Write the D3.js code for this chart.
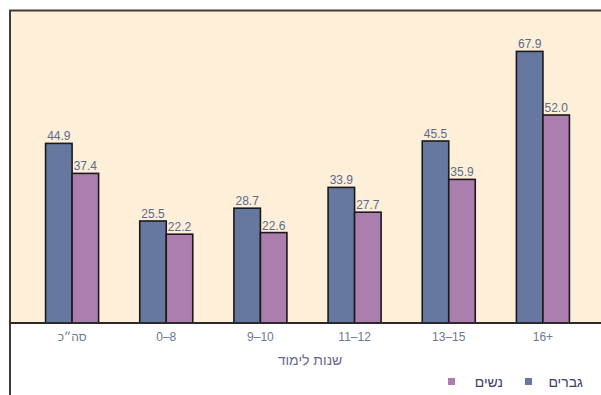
<!DOCTYPE html>
<html>
<head>
<meta charset="utf-8">
<script src="https://cdn.jsdelivr.net/npm/d3@7"></script>
<style>
  html, body { margin: 0; padding: 0; background: #ffffff; }
  svg { display: block; font-family: "Liberation Sans", "DejaVu Sans", Arial, sans-serif; }
  .num-label { direction: ltr; unicode-bidi: bidi-override; }
</style>
</head>
<body>
<svg id="chart" width="601" height="395"></svg>
<script>
// Years of schooling groups
const categories = ["סה״כ", "0–8", "9–10", "11–12", "13–15", "16+"];
// Series values per group
const men = [44.9, 25.5, 28.7, 33.9, 45.5, 67.9];
const women = [37.4, 22.2, 22.6, 27.7, 35.9, 52.0];
const seriesNames = ["גברים", "נשים"];
const seriesKeys = ["men", "women"];
const colors = { men: "#66789f", women: "#ab7eae" };
const xTitle = "שנות לימוד";

const rows = categories.map((c, i) => ({ cat: c, men: men[i], women: women[i] }));

const svg = d3.select("#chart");
const W = 601, H = 395;
const baseY = 323, topY = 11, leftX = 10;

// Panel background
svg.append("rect").attr("x", leftX).attr("y", topY).attr("width", W - leftX).attr("height", baseY - topY)
  .attr("fill", "#fdefd8");

const x0 = d3.scaleBand().domain(categories).range([25, 590]).paddingInner(0.437).paddingOuter(0.2185);
const x1 = d3.scaleBand().domain(seriesKeys).range([0, x0.bandwidth()]);
const y = d3.scaleLinear().domain([0, 78]).range([baseY, topY]);

const g = svg.append("g");
const groups = g.selectAll("g.grp").data(rows).join("g")
  .attr("class", "grp")
  .attr("transform", d => `translate(${x0(d.cat)},0)`);

groups.selectAll("rect").data(d => seriesKeys.map(k => ({ key: k, value: d[k] }))).join("rect")
  .attr("x", d => x1(d.key))
  .attr("y", d => y(d.value))
  .attr("width", x1.bandwidth())
  .attr("height", d => y(0) - y(d.value))
  .attr("fill", d => colors[d.key])
  .attr("stroke", "#1a1a1a")
  .attr("stroke-width", 1.6);

groups.selectAll("text.val").data(d => seriesKeys.map(k => ({ key: k, value: d[k] }))).join("text")
  .attr("class", "val")
  .attr("x", d => x1(d.key) + x1.bandwidth() / 2)
  .attr("y", d => y(d.value) - 3)
  .attr("text-anchor", "middle")
  .attr("font-size", 12)
  .attr("fill", "#5b6a8c")
  .text(d => d.value.toFixed(1));

// Frame lines: top and left
svg.append("line").attr("x1", leftX - 1).attr("x2", W).attr("y1", 10.5).attr("y2", 10.5)
  .attr("stroke", "#3c3c3c").attr("stroke-width", 2);
svg.append("line").attr("x1", leftX).attr("x2", leftX).attr("y1", 10).attr("y2", H)
  .attr("stroke", "#3c3c3c").attr("stroke-width", 2);

// X axis
const hebrew = /[\u0590-\u05FF]/;
const xAxis = d3.axisBottom(x0).tickSize(0).tickPadding(8);
const ax = svg.append("g").attr("transform", `translate(0,${baseY})`).call(xAxis);
ax.select(".domain").attr("d", `M${leftX},0H${W}`).attr("stroke", "#2a2a2a").attr("stroke-width", 2);
ax.selectAll("text")
  .attr("font-size", 12)
  .attr("fill", "#6d7792")
  .attr("font-family", "Liberation Sans, DejaVu Sans, Arial, sans-serif")
  .attr("dy", "0.8em")
  .attr("class", d => hebrew.test(d) ? null : "num-label");

svg.append("text")
  .attr("x", 310).attr("y", 365)
  .attr("text-anchor", "middle")
  .attr("font-size", 14)
  .attr("fill", "#6a6a8a")
  .text(xTitle);

// Legend
const legend = svg.append("g");
const legendItems = [
  { key: "men", label: seriesNames[0], box: 525, textRight: 583 },
  { key: "women", label: seriesNames[1], box: 448, textRight: 503 }
];
legendItems.forEach(it => {
  legend.append("rect").attr("x", it.box).attr("y", 378).attr("width", 7).attr("height", 7)
    .attr("fill", colors[it.key]);
  legend.append("text").attr("x", it.textRight).attr("y", 386.5)
    .attr("text-anchor", "end")
    .attr("direction", "ltr")
    .attr("font-size", 14)
    .attr("fill", "#3d3d6a")
    .text(it.label);
});
</script>
</body>
</html>
